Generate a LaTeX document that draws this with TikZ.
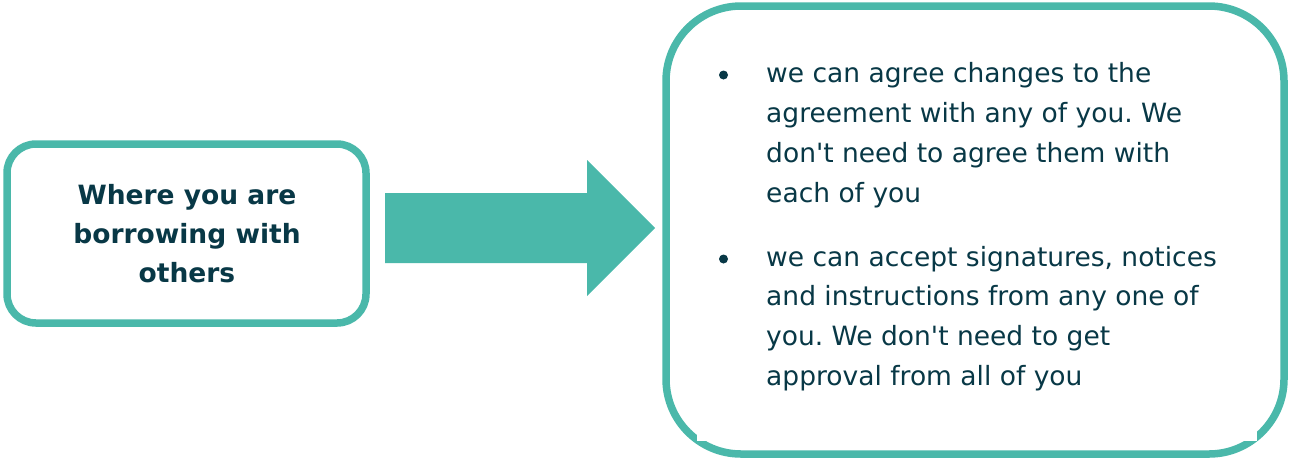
\documentclass[tikz,border=0pt]{standalone}
\usepackage{fontspec}
\setmainfont{DejaVu Sans}[Ligatures=TeXOff]
\frenchspacing
\definecolor{teal}{RGB}{74,184,170}
\definecolor{ink}{RGB}{8,56,70}
\begin{document}
\begin{tikzpicture}[x=1pt,y=-1pt,
  boxline/.style={draw=teal,line width=7.5pt,fill=white},
  bold/.style={font=\fontsize{26.5}{39}\selectfont\bfseries,text=ink,inner sep=0pt,anchor=base},
  body/.style={font=\fontsize{26.5}{39}\selectfont\frenchspacing,text=ink,inner sep=0pt,anchor=base west},
  dot/.style={circle,fill=ink,inner sep=0pt,minimum size=9pt}]
\useasboundingbox (0,0) rectangle (1289,459);
% left box
\draw[boxline,rounded corners=29pt] (7,144) rectangle (366,323);
\node[bold] (l1) at (187,204) {Where you are};
\node[bold] (l2) at (187,243) {borrowing with};
\node[bold] (l3) at (187,282) {others};
% arrow
\fill[teal] (385,193) -- (587,193) -- (587,160) -- (655,228) -- (587,296) -- (587,263) -- (385,263) -- cycle;
% right box
\draw[boxline,rounded corners=75pt] (666,6) rectangle (1284,454);
\fill[white] (697,60) rectangle (1257,441);
\node[dot] (b1) at (723.5,75) {};
\node[body] (t1) at (766,82) {we can agree changes to the};
\node[body] (t2) at (766,122) {agreement with any of you. We};
\node[body] (t3) at (766,162) {don't need to agree them with};
\node[body] (t4) at (766,202) {each of you};
\node[dot] (b2) at (723.5,259) {};
\node[body] (t5) at (766,266) {we can accept signatures, notices};
\node[body] (t6) at (766,305) {and instructions from any one of};
\node[body] (t7) at (766,345) {you. We don't need to get};
\node[body] (t8) at (766,385) {approval from all of you};
\end{tikzpicture}
\end{document}
